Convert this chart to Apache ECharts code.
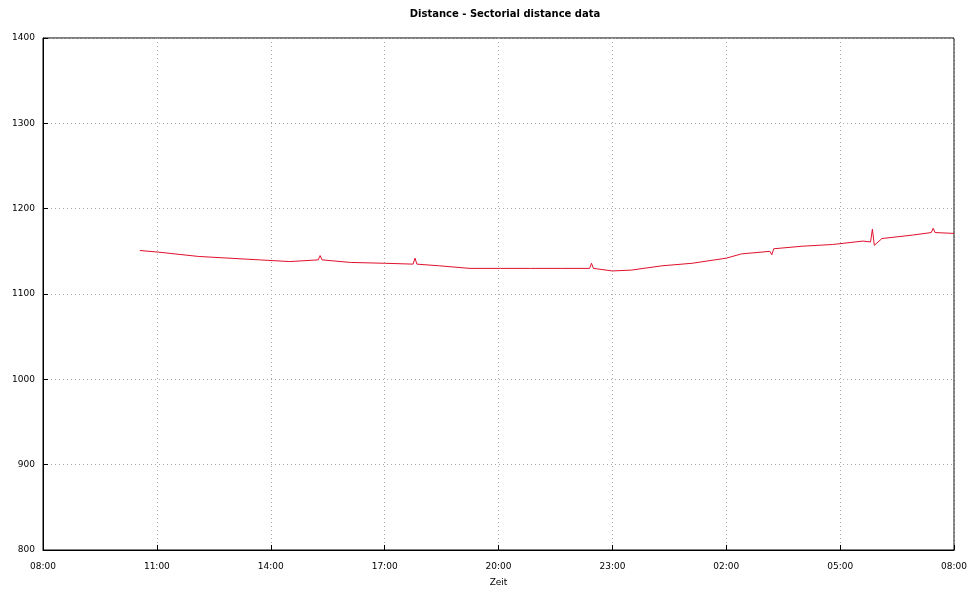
<!DOCTYPE html>
<html>
<head>
<meta charset="utf-8">
<script src="https://cdn.jsdelivr.net/npm/echarts@6/dist/echarts.min.js"></script>
<style>html,body{margin:0;padding:0;background:#fff;}#c{width:970px;height:592px;}</style>
</head>
<body>
<div id="c"></div>
<script>
const titleText = "Distance - Sectorial distance data";
const xAxisName = "Zeit";
const xTickLabels = ["08:00","11:00","14:00","17:00","20:00","23:00","02:00","05:00","08:00"];
const yTickLabels = ["800","900","1000","1100","1200","1300","1400"];
const hours  = [2.55,3.05,4.1,4.9,5.7,6.5,7.25,7.3,7.35,8.1,9.0,9.75,9.8,9.85,10.45,11.25,12.05,12.85,13.65,14.4,14.45,14.5,15.0,15.5,16.3,17.1,18.0,18.4,19.15,19.2,19.25,20.0,20.8,21.6,21.8,21.85,21.9,22.1,22.9,23.4,23.45,23.5,24.0];
const values = [1151,1149,1144,1142,1140,1138,1140,1145,1140,1137,1136,1135,1142,1135,1133,1130,1130,1130,1130,1130,1136,1130,1127,1128,1133,1136,1142,1147,1150,1146,1153,1156,1158,1162,1161,1176,1157,1165,1169,1172,1177,1172,1171];

const chart = echarts.init(document.getElementById('c'));
chart.setOption({
  animation: false,
  backgroundColor: '#fff',
  title: {
    text: titleText, left: 500, top: 4, textAlign: 'center',
    textStyle: {fontSize: 10, fontWeight: 'bold', color: '#000', fontFamily: 'DejaVu Sans'}
  },
  grid: {left: 43, right: 15, top: 38, bottom: 38, show: true, borderColor: '#000', borderWidth: 1},
  xAxis: {
    type: 'value', min: 0, max: 24, interval: 3,
    name: xAxisName, nameLocation: 'middle', nameGap: 28,
    nameTextStyle: {fontSize: 9, color: '#000', fontFamily: 'DejaVu Sans'},
    axisLine: {show: true, lineStyle: {color: '#000'}},
    axisTick: {show: true, inside: true, length: 5, lineStyle: {color: '#000'}},
    axisLabel: {fontSize: 9, color: '#000', margin: 12, fontFamily: 'DejaVu Sans',
      formatter: v => xTickLabels[Math.round(v / 3)]},
    splitLine: {show: true, lineStyle: {color: '#aaa', type: [1, 3], width: 1}}
  },
  yAxis: {
    type: 'value', min: 800, max: 1400, interval: 100,
    axisLine: {show: true, lineStyle: {color: '#000'}},
    axisTick: {show: true, inside: true, length: 5, lineStyle: {color: '#000'}},
    axisLabel: {fontSize: 9, color: '#000', margin: 8, fontFamily: 'DejaVu Sans',
      formatter: v => yTickLabels[Math.round((v - 800) / 100)]},
    splitLine: {show: true, lineStyle: {color: '#aaa', type: [1, 3], width: 1}}
  },
  series: [{
    type: 'line', showSymbol: false,
    data: hours.map((h, i) => [h, values[i]]),
    lineStyle: {color: '#e0102a', width: 1},
    itemStyle: {color: '#e0102a'}
  }]
});
</script>
</body>
</html>
